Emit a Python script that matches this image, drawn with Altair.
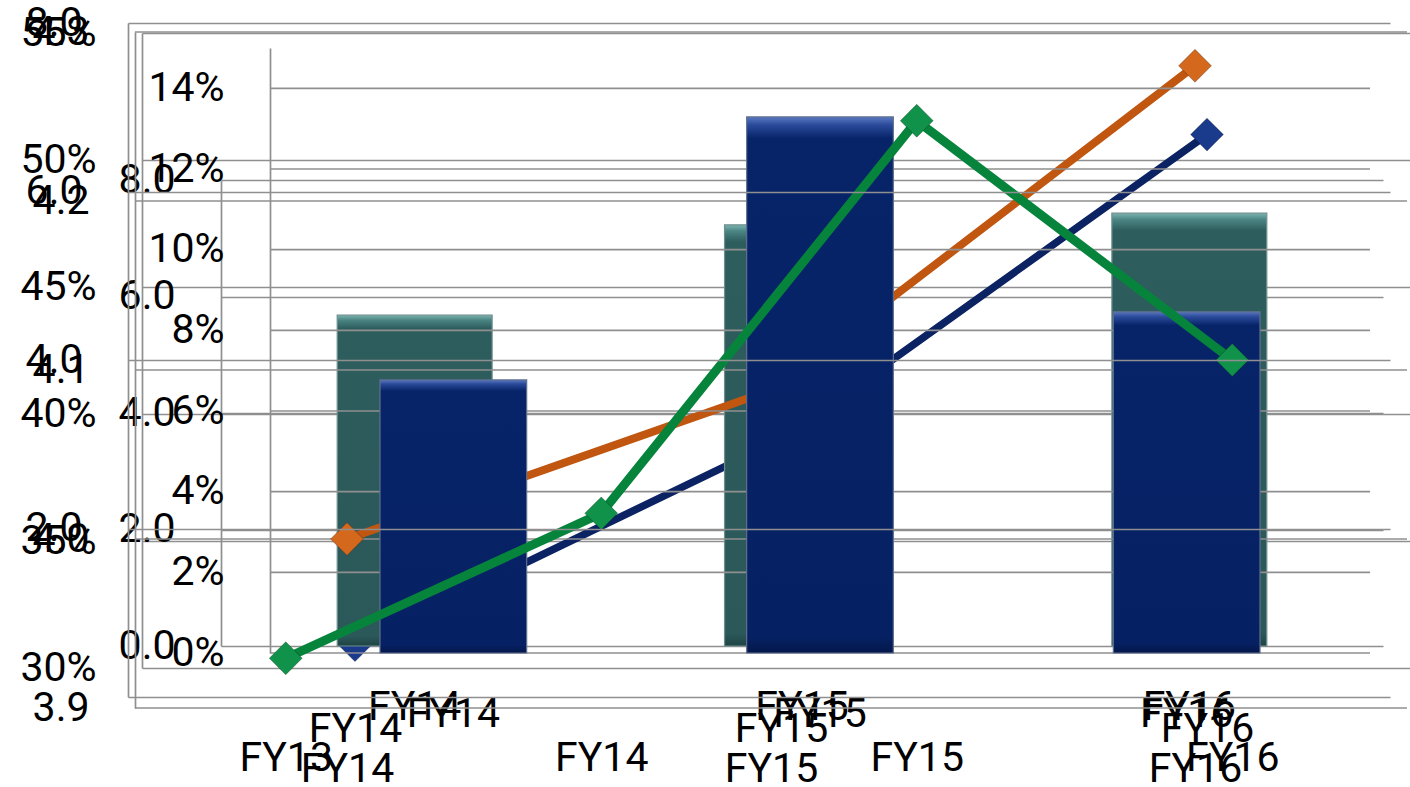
import altair as alt
import pandas as pd

# ---- data ----
green_cats = ["FY13", "FY14", "FY15", "FY16"]
green_vals = [0.46, 2.18, 6.84, 4.00]          # axis 0.0 - 8.0 (outer left)

orange_cats = ["FY14", "FY15", "FY16"]
orange_vals = [4.000, 4.088, 4.280]            # axis 3.9 - 4.3

navy_cats = ["FY14", "FY15", "FY16"]
navy_vals = [0.309, 0.390, 0.510]              # axis 30% - 55%

teal_cats = ["FY14", "FY15", "FY16"]
teal_vals = [5.68, 7.23, 7.43]                 # axis 0.0 - 8.0 (inner)

blue_cats = ["FY14", "FY15", "FY16"]
blue_vals = [0.0677, 0.1329, 0.0846]           # axis 0% - 15%

ticks_green = [0, 2, 4, 6, 8]
ticks_orange = [3.9, 4.0, 4.1, 4.2, 4.3]
ticks_navy = [0.30, 0.35, 0.40, 0.45, 0.50, 0.55]
ticks_teal = [0, 2, 4, 6, 8]
ticks_blue = [0, 0.02, 0.04, 0.06, 0.08, 0.10, 0.12, 0.14]

# ---- layout (plot frames in pixels) ----
W, H = 1410, 787
FONT = "Roboto"
FS = 41
GRID = "#8f8f8f"
GW = 1.7

frames = {
    "green": dict(left=128, right=1390, top=23, bottom=697),
    "orange": dict(left=135, right=1407, top=32, bottom=708),
    "navy": dict(left=142, right=1420, top=33, bottom=668),
    "teal": dict(left=221, right=1383, top=180, bottom=646),
    "blue": dict(left=270, right=1370, top=48, bottom=653),
}


def yaxis(fr, values, fmt, zindex=0, label_expr=None, grid=True):
    kw = dict(
        orient="left", offset=-fr["left"], values=values, format=fmt,
        grid=grid, gridColor=GRID, gridWidth=GW,
        domain=True, domainColor=GRID, domainWidth=GW,
        ticks=False, labelPadding=46, labelFont=FONT, labelFontSize=FS,
        labelColor="black", labelAlign="right", labelBaseline="middle",
        labelOverlap=False, title=None, zindex=zindex,
    )
    if label_expr:
        kw["labelExpr"] = label_expr
    return alt.Axis(**kw)


def xaxis(fr):
    return alt.Axis(
        orient="bottom", offset=fr["bottom"] - H, domain=False, ticks=False,
        grid=False, labelPadding=61, labelBaseline="middle", labelAngle=0,
        labelFont=FONT, labelFontSize=FS, labelColor="black", title=None,
        labelOverlap=False,
    )


def yscale(fr, domain):
    return alt.Scale(domain=domain, range=[fr["bottom"], fr["top"]], nice=False, zero=False)


def grid_rules(fr, domain, ticks):
    # gridlines drawn as marks so that they sit above earlier layers
    df = pd.DataFrame({"val": ticks})
    return alt.Chart(df).mark_rule(color=GRID, strokeWidth=GW).encode(
        x=alt.value(fr["left"]), x2=alt.value(fr["right"]),
        y=alt.Y("val:Q", scale=yscale(fr, domain)),
    )


def line_layer(cats, vals, fr, domain, ticks, fmt, color, mcolor, sw, zindex=0,
               label_expr=None, grid=True):
    df = pd.DataFrame({"cat": cats, "val": vals})
    return alt.Chart(df).mark_line(
        color=color, strokeWidth=sw,
        point=alt.OverlayMarkDef(shape="diamond", size=1080, filled=True,
                                 color=mcolor, stroke="#00000040", strokeWidth=1),
    ).encode(
        x=alt.X("cat:N", sort=cats,
                scale=alt.Scale(type="point", padding=0.5, range=[fr["left"], fr["right"]]),
                axis=xaxis(fr)),
        y=alt.Y("val:Q", scale=yscale(fr, domain),
                axis=yaxis(fr, ticks, fmt, zindex, label_expr, grid)),
    )


def bar_layer(cats, vals, fr, domain, ticks, fmt, fill, stroke, grid=True):
    df = pd.DataFrame({"cat": cats, "val": vals})
    return alt.Chart(df).mark_bar(color=fill, stroke=stroke, strokeWidth=1.2).encode(
        x=alt.X("cat:N", sort=cats,
                scale=alt.Scale(type="band", paddingInner=0.6, paddingOuter=0.3,
                                range=[fr["left"], fr["right"]]),
                axis=xaxis(fr)),
        y=alt.Y("val:Q", scale=yscale(fr, domain), axis=yaxis(fr, ticks, fmt, grid=grid)),
    )


def grad(stops):
    return alt.Gradient(
        gradient="linear", x1=0, x2=0, y1=0, y2=1,
        stops=[alt.GradientStop(offset=o, color=c) for o, c in stops],
    )


teal_fill = grad([(0, "#7bb3b0"), (0.015, "#4b8583"), (0.04, "#2e5d5e"), (0.97, "#2b5859"), (1, "#1f4445")])
blue_fill = grad([(0, "#5a78c0"), (0.015, "#2a4a9a"), (0.04, "#072469"), (0.97, "#062163"), (1, "#03174a")])

navy = line_layer(navy_cats, navy_vals, frames["navy"], [0.30, 0.55], ticks_navy, ".0%",
                  "#0b2263", "#1a3a8c", 7.5)
teal = bar_layer(teal_cats, teal_vals, frames["teal"], [0, 8], ticks_teal, ".1f",
                 teal_fill, "#6f8f8f")
orange = alt.layer(
    grid_rules(frames["orange"], [3.9, 4.3], ticks_orange),
    line_layer(orange_cats, orange_vals, frames["orange"], [3.9, 4.3], ticks_orange, ".1f",
               "#c0560f", "#d4691e", 8, grid=False),
)
blue = alt.layer(
    grid_rules(frames["blue"], [0, 0.15], ticks_blue),
    bar_layer(blue_cats, blue_vals, frames["blue"], [0, 0.15], ticks_blue, ".0%",
              blue_fill, "#5f6f8f", grid=False),
)
green = line_layer(green_cats, green_vals, frames["green"], [0, 8], ticks_green, ".1f",
                   "#06843c", "#10924a", 9, zindex=1,
                   label_expr="datum.value == 0 ? '' : format(datum.value, '.1f')")

chart = alt.layer(navy, teal, orange, blue, green).resolve_scale(
    x="independent", y="independent"
).resolve_axis(
    x="independent", y="independent"
).properties(
    width=W, height=H, autosize=alt.AutoSizeParams(type="none"), padding=0,
    background="white",
).configure_view(strokeWidth=0)

chart.save("out.html", embed_options={"renderer": "svg", "actions": False})
